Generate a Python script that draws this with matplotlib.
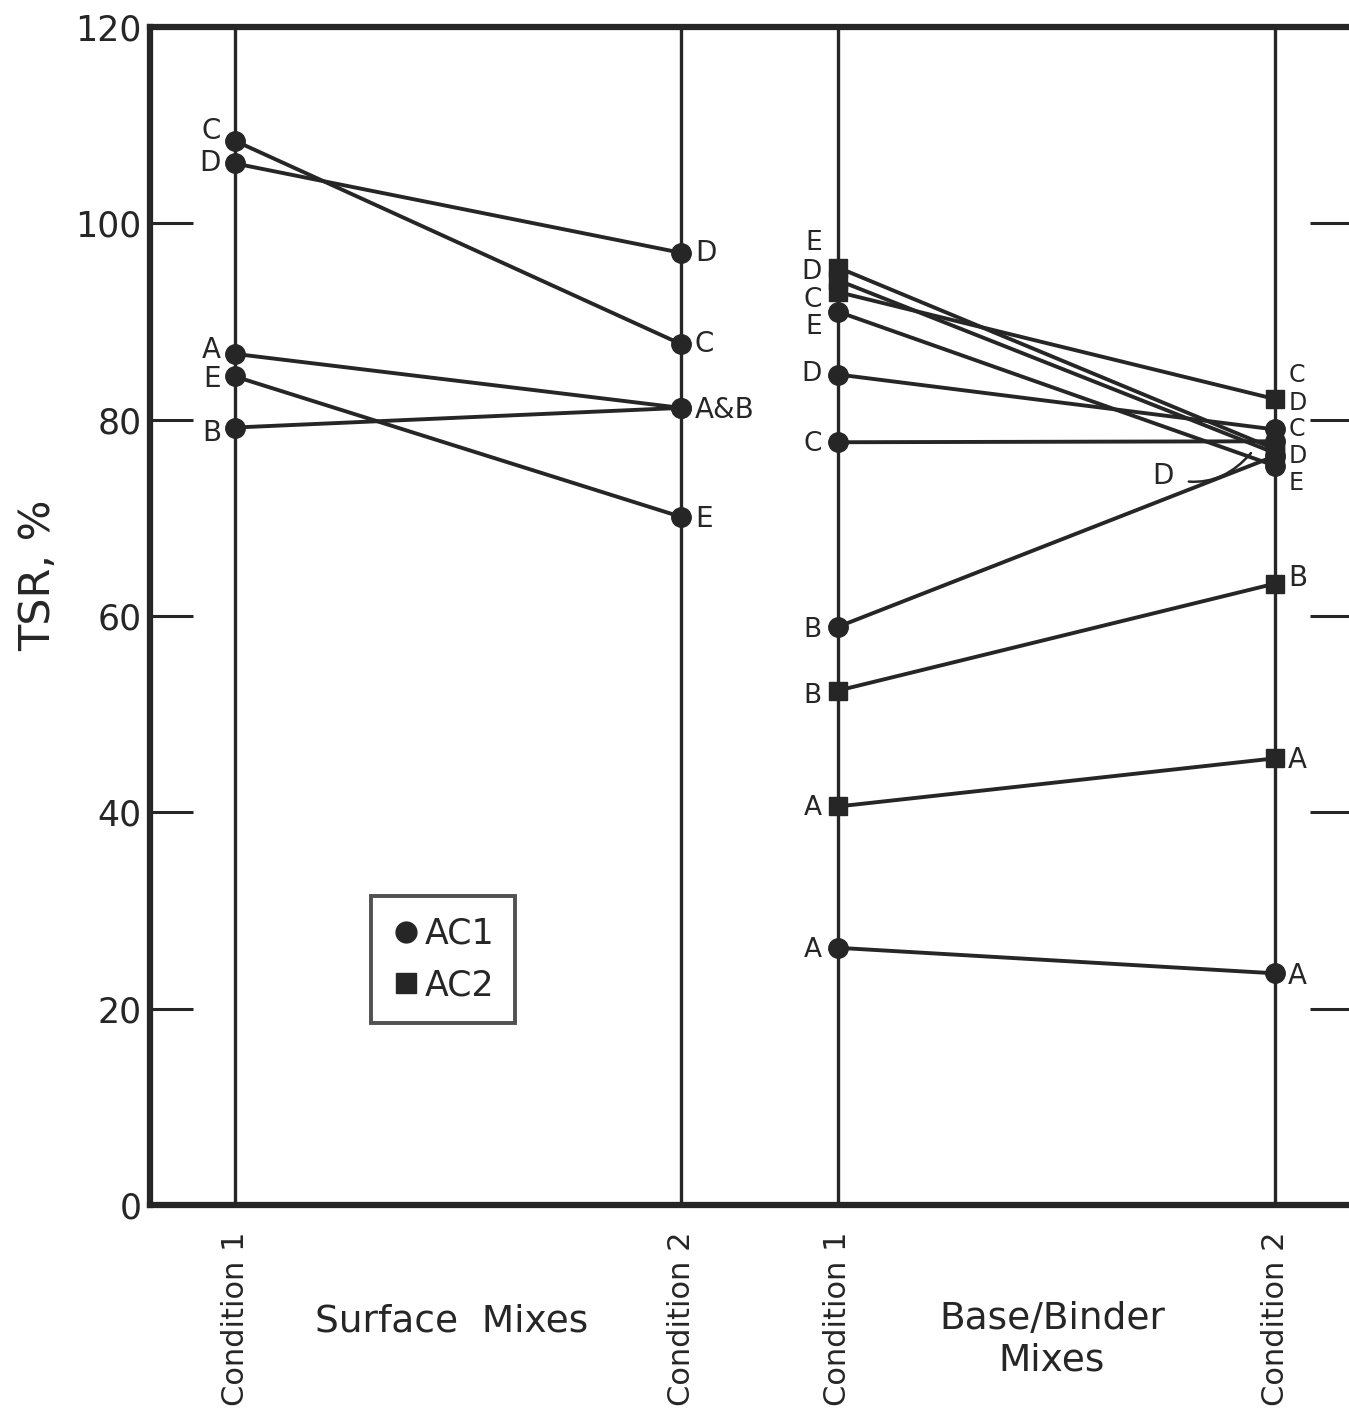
import matplotlib.pyplot as plt
from matplotlib.lines import Line2D

# TSR (%)
surface_mixes = ["C", "D", "A", "E", "B"]
surface_cond1 = [108.4, 106.1, 86.7, 84.4, 79.2]
surface_cond2 = [87.7, 97.0, 81.2, 70.1, 81.2]

base_mixes = ["A", "B", "C", "D", "E"]
base_ac1_cond1 = [26.2, 58.9, 77.7, 84.6, 91.0]
base_ac1_cond2 = [23.6, 76.3, 77.8, 79.0, 75.3]
base_ac2_cond1 = [40.6, 52.4, 93.0, 94.2, 95.5]
base_ac2_cond2 = [45.5, 63.3, 82.1, 76.6, 77.0]

yticks = [0, 20, 40, 60, 80, 100, 120]
cond_names = ["Condition 1", "Condition 2", "Condition 1", "Condition 2"]

# layout: horizontal positions of the four condition lines (pixel-like units)
cond_x = [235, 681, 838, 1275]

# layout: where the letters sit (TSR units), since they are spread apart in the stacks
surf_lab1 = [("C", 109.4), ("D", 106.1), ("A", 87.1), ("E", 84.1), ("B", 78.6)]
surf_lab2 = [("D", 97.0), ("C", 87.7), ("A&B", 81.0), ("E", 69.9)]
base_lab1 = [("E", 98.0), ("D", 95.0), ("C", 92.2), ("E", 89.4), ("D", 84.7),
             ("C", 77.5), ("B", 58.6), ("B", 51.9), ("A", 40.4), ("A", 26.0)]
base_lab2 = [("B", 63.9), ("A", 45.3), ("A", 23.3)]
cluster_lab2 = [("C", 84.6), ("D", 81.7), ("C", 79.0), ("D", 76.3), ("E", 73.5)]

ink = "#262626"
plt.rcParams['font.family'] = ['DejaVu Sans']

fig = plt.figure(figsize=(13.49, 14.2), dpi=100)
ax = fig.add_axes([150 / 1349, 215 / 1420, (1353 - 150) / 1349, (1205 - 27) / 1420])
ax.set_xlim(150, 1353)
ax.set_ylim(0, 120)

for x in cond_x:
    ax.axvline(x, color=ink, lw=2.4, zorder=1)

# surface mixes, AC1 only
for m, a, b in zip(surface_mixes, surface_cond1, surface_cond2):
    ax.plot([cond_x[0], cond_x[1]], [a, b], color=ink, lw=2.8, marker="o", ms=14, zorder=3)

# base / binder mixes
for m, a, b in zip(base_mixes, base_ac2_cond1, base_ac2_cond2):
    ax.plot([cond_x[2], cond_x[3]], [a, b], color=ink, lw=2.8, marker="s", ms=13, zorder=3)
for m, a, b in zip(base_mixes, base_ac1_cond1, base_ac1_cond2):
    ax.plot([cond_x[2], cond_x[3]], [a, b], color=ink, lw=2.8, marker="o", ms=14, zorder=3)

lab_kw = dict(fontsize=20, color=ink, va="center")
for t, y in surf_lab1:
    ax.text(cond_x[0] - 14, y, t, ha="right", **lab_kw)
for t, y in surf_lab2:
    ax.text(cond_x[1] + 14, y, t, ha="left", **lab_kw)
for t, y in base_lab1:
    ax.text(cond_x[2] - 16, y, t, ha="right", fontsize=19, color=ink, va="center")
for t, y in base_lab2:
    ax.text(cond_x[3] + 13, y, t, ha="left", **lab_kw)
for t, y in cluster_lab2:
    ax.text(cond_x[3] + 14, y, t, ha="left", fontsize=17, color=ink, va="center")

# hidden D in the cluster, labelled with a leader
ax.annotate("D", xy=(cond_x[3] - 24, 76.6), xytext=(1163, 74.3), ha="center", va="center",
            fontsize=20, color=ink,
            arrowprops=dict(arrowstyle="-", color=ink, lw=1.8,
                            connectionstyle="arc3,rad=0.35", shrinkA=9, shrinkB=0))

# axes styling
for s in ax.spines.values():
    s.set_linewidth(4.5)
    s.set_color(ink)
ax.set_xticks([])
ax.set_yticks(yticks)
ax.tick_params(axis="y", direction="in", length=31, width=2.2, color=ink,
               labelsize=25, labelcolor=ink, pad=6, right=True, labelright=False)

fig.text(38 / 1349, 1 - 575 / 1420, "TSR, %", rotation=90, ha="center", va="center",
         fontsize=31, color=ink)

# x labels
for x, name in zip(cond_x, cond_names):
    ax.text(x, -2.7, name, rotation=90, ha="center", va="top", fontsize=22, color=ink,
            clip_on=False)
fig.text(452 / 1349, 1 - 1322 / 1420, "Surface  Mixes", ha="center", va="center",
         fontsize=27, color=ink)
fig.text(1052 / 1349, 1 - 1340 / 1420, "Base/Binder\nMixes", ha="center", va="center",
         fontsize=27, color=ink, linespacing=1.2)

handles = [Line2D([], [], color=ink, marker="o", ls="none", ms=15),
           Line2D([], [], color=ink, marker="s", ms=14, ls="none")]
leg = ax.legend(handles, ["AC1", "AC2"], loc="upper left",
                bbox_to_anchor=(371 / 1349, 1 - 896 / 1420), bbox_transform=fig.transFigure,
                fontsize=25, frameon=True, fancybox=False, handlelength=0.8,
                handletextpad=0.15, borderpad=0.6, labelspacing=0.5, borderaxespad=0)
leg.get_frame().set_edgecolor(ink)
leg.get_frame().set_linewidth(2.8)
for t in leg.get_texts():
    t.set_color(ink)

fig.savefig("out.png", dpi=100)
